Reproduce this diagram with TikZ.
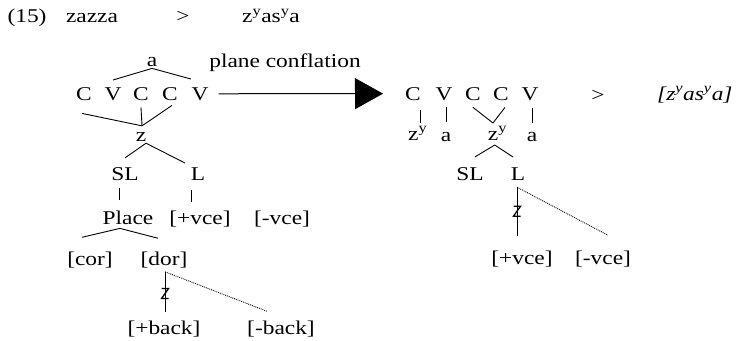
\documentclass[tikz,border=0pt]{standalone}
\usepackage{fontspec}
\setmainfont[FakeStretch=1.2]{Liberation Serif}
\usetikzlibrary{calc,arrows.meta}
\begin{document}
\begin{tikzpicture}[x=1pt,y=-1pt,
  font=\fontsize{19.5}{22}\selectfont,
  t/.style={inner sep=0pt, anchor=base},
  tw/.style={inner sep=0pt, anchor=base west},
  ln/.style={line width=0.9pt},
  dl/.style={line width=0.9pt, densely dotted},
  zmk/.pic={\draw[line width=1.3pt] (-3.5,-5.5) -- (3.5,-5.5) -- (-3.5,4.5) -- (3.5,4.5);}]
\useasboundingbox (0,0) rectangle (741,340);

% top line
\node[t] (ex) at (27,23) {(15)};
\node[t] (w1) at (92,23) {zazza};
\node[t] (gt1) at (183,23) {>};
\node[tw] (w2) at (242,23) {z\textsuperscript{y}as\textsuperscript{y}a};

% left tree
\node[t] (la) at (152,66) {a};
\node[t] (pc) at (285,67) {plane conflation};
\node[t] (lC1) at (84,100) {C};
\node[t] (lV1) at (113,100) {V};
\node[t] (lC2) at (141,100) {C};
\node[t] (lC3) at (170,100) {C};
\node[t] (lV2) at (200,100) {V};
\node[t] (lz) at (141,141) {z};
\node[t] (lSL) at (125,180) {SL};
\node[t] (lL) at (198,180) {L};
\node[t] (lPl) at (128,224) {Place};
\node[t] (lpv) at (200,224) {[+vce]};
\node[t] (lmv) at (282,224) {[-vce]};
\node[t] (lcor) at (90,265) {[cor]};
\node[t] (ldor) at (164,265) {[dor]};
\node[t] (lpb) at (164,334) {[+back]};
\node[t] (lmb) at (281,334) {[-back]};

\draw[ln] ($(la.south)+(0,2)$) -- ($(lV1.north)+(0,-7)$);
\draw[ln] ($(la.south)+(0,2)$) -- ($(lV2.north)+(-9,-8)$);
\coordinate (lvx) at ($(lz.north)+(1,-6)$);
\draw[ln] ($(lC1.south)+(-2,13)$) -- (lvx);
\draw[ln] ($(lC2.south)+(0,7)$) -- (lvx);
\draw[ln] ($(lC3.south)+(2,5)$) -- (lvx);
\draw[ln] ($(lz.south)+(5,2)$) -- ($(lSL.north)+(0,-9)$);
\draw[ln] ($(lz.south)+(5,2)$) -- ($(lL.north)+(-13,-4)$);
\draw[ln] ($(lSL.south)+(-6,8)$) -- ($(lPl.north)+(-9,-10)$);
\draw[ln] ($(lL.south)+(-7,10)$) -- ($(lpv.north)+(-9,-8)$);
\draw[ln] ($(lPl.south)+(-8,4)$) -- ($(lcor.north)+(-8,-14)$);
\draw[ln] ($(lPl.south)+(-8,4)$) -- ($(ldor.north)+(-6,-13)$);
\draw[ln] ($(ldor.south)+(1,4)$) -- coordinate[pos=0.55] (lm) ($(lpb.north)+(1,-8)$);
\draw[dl] ($(ldor.south)+(1,4)$) -- ($(lmb.north)+(-14,-9)$);
\path (lm) pic {zmk};

% arrow
\node[t] (rC1) at (413,100) {C};
\draw[line width=1pt, -{Triangle[length=28pt,width=31pt]}] ($(lV2.east)+(10,0)$) -- ($(rC1.west)+(-22,0)$);

% right tree
\node[t] (rV1) at (444,100) {V};
\node[t] (rC2) at (473,100) {C};
\node[t] (rC3) at (501,100) {C};
\node[t] (rV2) at (530,100) {V};
\node[t] (gt2) at (598,101) {>};
\node[tw] (res) at (657,100) {\itshape [z\textsuperscript{y}as\textsuperscript{y}a]};
\node[tw] (rz1) at (408,140) {z\textsuperscript{y}};
\node[t] (ra1) at (446,141) {a};
\node[tw] (rz2) at (487.7,140) {z\textsuperscript{y}};
\node[t] (ra2) at (532,141) {a};
\node[t] (rSL) at (470,180) {SL};
\node[t] (rL) at (518,180) {L};
\node[t] (rpv) at (522,264) {[+vce]};
\node[t] (rmv) at (603,264) {[-vce]};

\draw[ln] ($(rC1.south)+(7,10)$) -- ($(rz1.base west)+(12,-17)$);
\draw[ln] ($(rV1.south)+(2,7)$) -- ($(ra1.north)+(0,-10)$);
\coordinate (rvx) at ($(rz2.base west)+(5.3,-17)$);
\draw[ln] ($(rC2.south)+(0,7)$) -- (rvx);
\draw[ln] ($(rC3.south)+(4,7)$) -- (rvx);
\draw[ln] ($(rV2.south)+(2,8)$) -- ($(ra2.north)+(0,-9)$);
\draw[ln] ($(rz2.base west)+(7,5)$) -- ($(rSL.north)+(5,-10)$);
\draw[ln] ($(rz2.base west)+(7,5)$) -- ($(rL.north)+(-5,-10)$);
\draw[ln] ($(rL.south)+(-1,7)$) -- coordinate[pos=0.5] (rm) ($(rpv.north)+(-5,-14)$);
\draw[dl] ($(rL.south)+(-1,7)$) -- ($(rmv.north)+(5,-15)$);
\path (rm) pic {zmk};
\end{tikzpicture}
\end{document}
